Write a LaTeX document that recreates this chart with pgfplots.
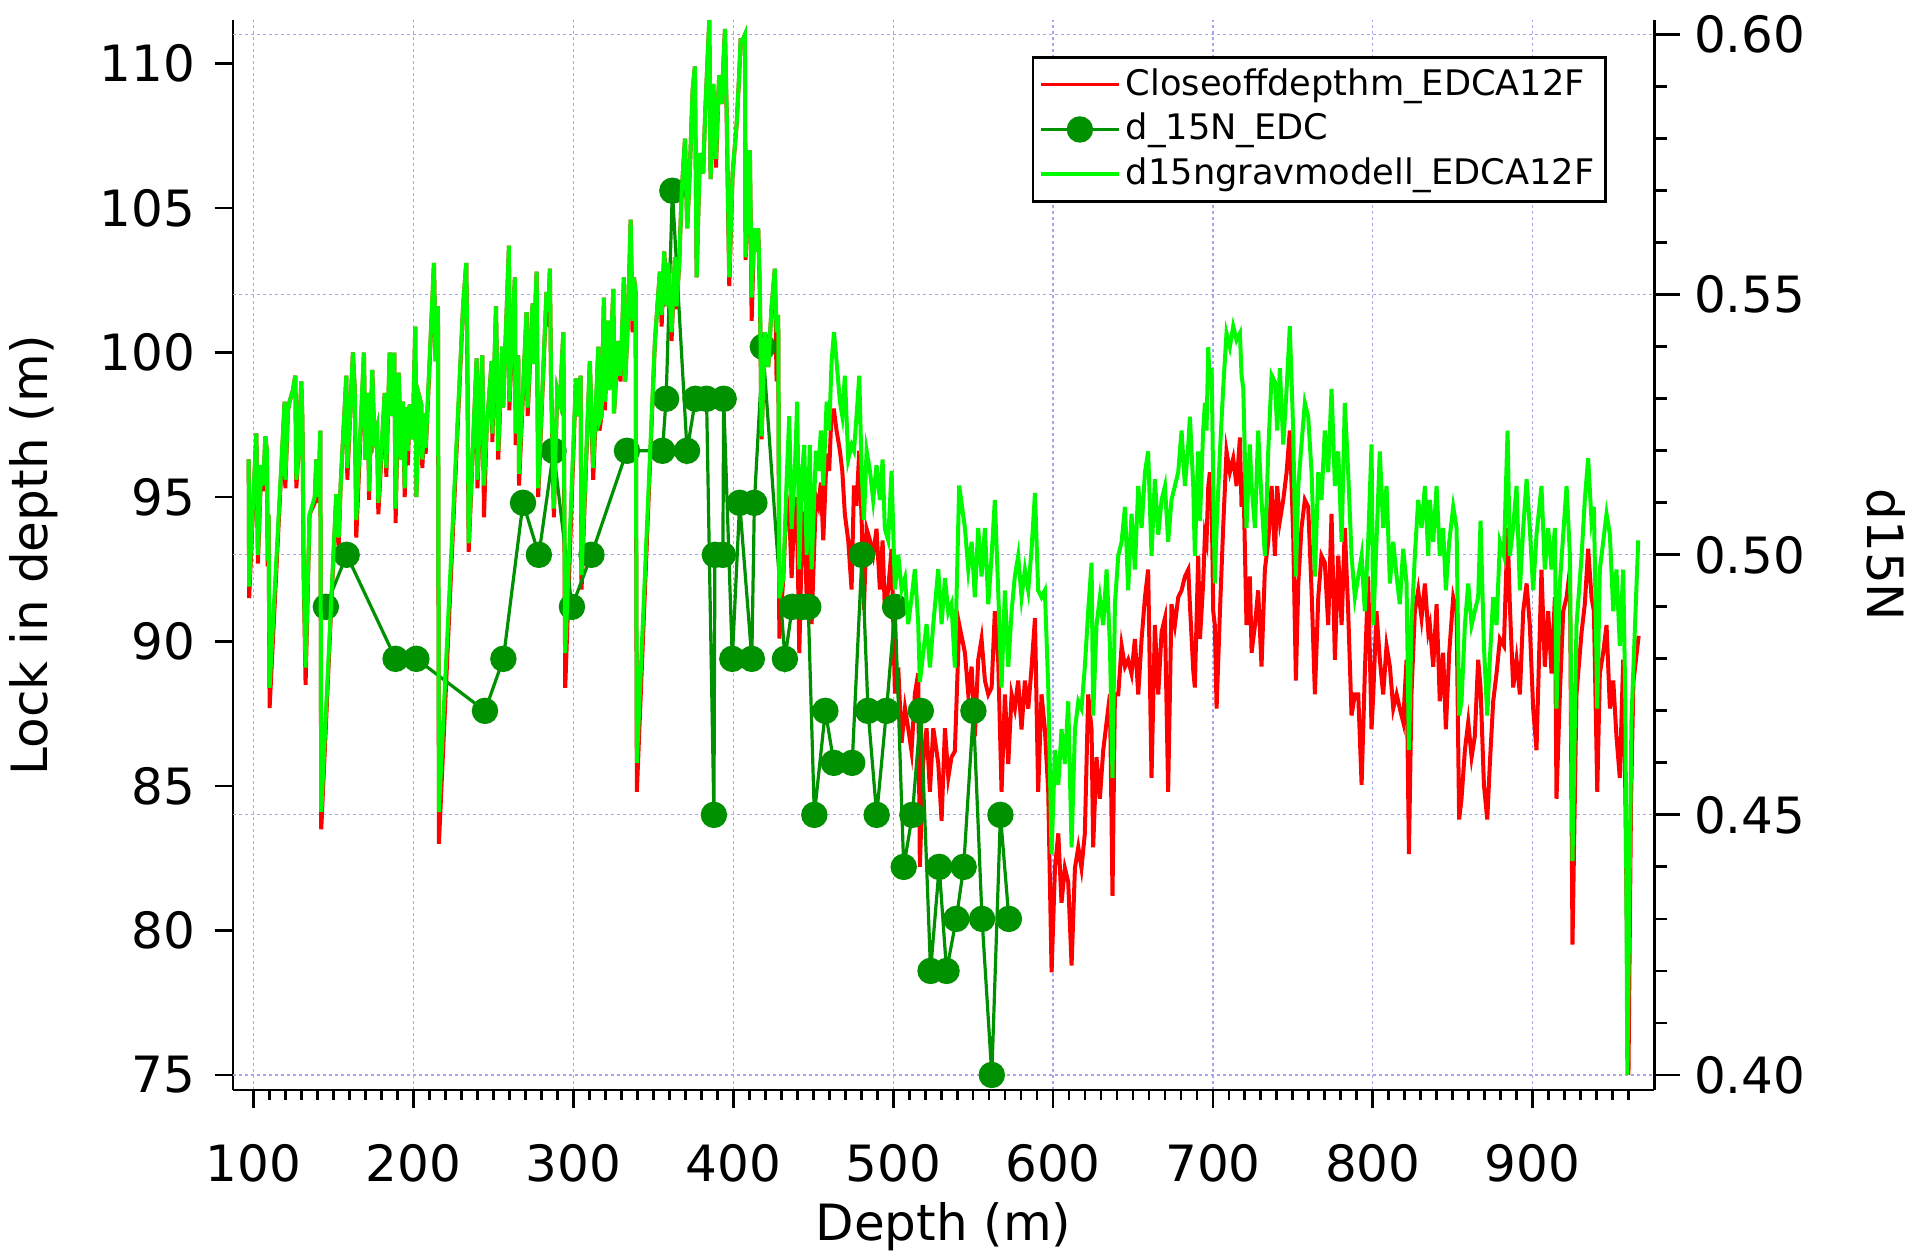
\documentclass[border=0pt]{standalone}
\usepackage{pgfplots}
\pgfplotsset{compat=1.18}
\usepackage{fontspec}
\setmainfont{DejaVu Sans}
\definecolor{cred}{RGB}{255,0,0}
\definecolor{cgreen}{RGB}{0,250,0}
\definecolor{cdark}{RGB}{0,145,0}
\definecolor{cgrid}{RGB}{165,165,240}
\pgfplotsset{
  base/.style={
    scale only axis, width=355.3pt, height=267.5pt,
    at={(0pt,0pt)}, anchor=south west,
    xmin=87.1, xmax=976,
    enlargelimits=false,
    axis line style={-, line width=0.7pt, black},
    tick style={line width=0.7pt, black},
    tick align=outside,
    /pgf/number format/assume math mode=true,
    tick label style={font=\fontsize{12.5}{15}\selectfont},
    label style={font=\fontsize{12.5}{15}\selectfont},
  }
}
\begin{document}
\begin{tikzpicture}
\useasboundingbox (-58.25pt,-42.25pt) rectangle (421.75pt,272.5pt);
% ---------- axis 1: left axis, red series, grid ----------
\begin{axis}[base,
  ymin=74.48, ymax=111.51,
  axis x line*=bottom, axis y line*=left,
  xtick={100,200,...,900},
  minor xtick={110,120,...,960},
  major tick length=4.6pt, minor tick length=2.5pt,
  ytick={75,80,...,110},
  xmajorgrids=true,
  major grid style={cgrid, line width=0.3pt, dash pattern=on 0.7pt off 0.8pt},
  extra y ticks={75,84,93,102,111},
  extra y tick labels={},
  extra y tick style={grid=major, major tick length=0pt},
  xticklabel style={inner sep=0pt, anchor=north},
  yticklabel style={inner sep=0pt, anchor=east},
  xticklabel shift=8.7pt,
  yticklabel shift=4.7pt,
  xlabel={Depth (m)},
  ylabel={Lock in depth (m)},
  x label style={at={([yshift=-34.3pt]axis description cs:0.5,0)}, anchor=center},
  y label style={at={([xshift=-49.8pt]axis description cs:0,0.5)}, anchor=center},
]
\addplot[cred, line width=1pt] coordinates {
(96.9,96.3)(97.2,91.5)(101.7,97.2)(102.7,92.7)(104.8,96.1)(106.0,95.2)(107.3,97.1)(108.3,96.6)(108.8,92.6)(109.3,94.4)(110.0,87.7)(119.4,98.3)(119.8,95.3)(121.5,98.0)(122.5,98.3)(124.6,98.7)(126.1,99.2)(126.7,95.3)(128.0,96.5)(129.8,99.0)(130.5,97.7)(131.3,92.3)(132.5,88.5)(135.0,94.4)(138.2,94.8)(139.2,96.3)(140.5,94.8)(141.7,97.3)(142.3,83.5)(151.7,95.1)(153.2,93.3)(154.5,95.5)(158.0,99.2)(158.6,95.6)(160.5,98.0)(162.1,100.0)(163.2,98.8)(164.2,93.6)(169.0,100.0)(169.9,96.3)(171.5,98.6)(172.2,94.9)(174.2,99.4)(175.5,97.0)(177.2,97.4)(178.0,94.4)(182.0,98.6)(183.0,95.7)(185.1,100.0)(186.7,97.8)(188.0,100.0)(188.8,94.1)(190.7,99.3)(192.4,96.3)(193.4,98.3)(194.5,95.0)(195.5,98.1)(196.5,96.1)(197.6,98.2)(199.5,97.0)(201.1,100.9)(201.8,95.0)(203.5,98.5)(204.9,98.2)(205.5,96.0)(207.0,97.9)(207.6,96.5)(212.8,103.1)(213.8,99.7)(215.3,101.6)(215.9,83.0)(231.0,101.6)(233.0,103.1)(233.7,99.5)(234.5,93.1)(239.5,99.8)(240.0,95.3)(243.0,99.9)(244.1,94.3)
(245.7,97.3)(248.9,99.7)(249.3,96.9)(251.6,101.6)(253.0,96.3)(255.5,100.2)(256.1,98.1)(259.7,103.7)(259.9,98.0)(263.4,102.6)(263.9,96.8)(265.5,99.9)(266.0,95.4)(270.7,101.4)(271.4,97.8)(274.5,101.7)(274.9,99.6)(277.0,102.8)(278.0,95.0)(283.2,102.1)(284.3,100.9)(285.3,102.9)(286.0,99.2)(287.8,94.3)(289.9,98.7)(291.6,98.3)(293.7,100.7)(294.9,88.4)(301.6,99.1)(303.0,97.8)(304.5,99.2)(305.1,91.8)(310.3,99.7)(312.4,95.6)(315.6,100.2)(316.3,97.3)(317.6,97.8)(319.1,101.9)(319.7,98.0)(321.8,101.1)(322.4,98.7)(325.0,102.2)(325.4,97.9)(328.1,100.4)(329.5,99.0)(331.6,102.6)(332.4,99.0)(334.3,101.3)(335.8,104.6)(337.0,100.7)(337.9,102.6)(338.9,102.1)(339.7,84.8)(351.0,100.4)(354.1,102.8)(355.2,100.9)(356.8,103.5)(358.3,101.6)(359.3,103.1)(361.4,100.4)(363.5,103.3)(364.5,101.5)(366.2,103.1)(367.7,105.5)(369.8,107.4)(371.2,104.3)(372.9,106.4)(374.6,109.1)(376.0,109.9)(377.1,102.6)(379.1,106.9)(381.2,106.2)(382.3,108.1)(385.0,111.5)(385.8,106.0)(387.5,109.3)(389.2,106.4)(390.6,108.8)
(391.2,109.6)(392.7,108.6)(394.8,111.2)(395.8,108.4)(397.5,102.3)(399.6,106.2)(402.1,107.9)(403.7,109.6)(404.6,110.8)(405.8,110.8)(407.3,111.0)(407.7,103.2)(409.4,105.5)(410.4,107.0)(411.5,101.1)(413.1,104.3)(414.6,103.5)(415.6,104.3)(416.7,101.9)(417.7,97.0)(419.8,100.7)(421.9,99.5)(424.0,101.6)(426.0,102.9)(427.1,99.0)(428.1,101.3)(428.8,90.1)(431.3,92.2)(433.4,95.0)(435.0,94.5)(436.5,92.2)(438.6,95.0)(440.0,94.0)(441.3,89.6)(442.7,93.0)(444.4,94.5)(445.9,91.5)(447.9,94.0)(449.0,90.6)(451.7,95.0)(453.2,94.7)(454.8,95.5)(456.3,93.5)(458.4,96.5)(460.0,95.9)(461.5,98.0)(463.0,98.0)(464.6,97.3)(466.7,96.6)(468.2,95.9)(469.8,94.4)(471.9,93.5)(474.0,91.8)(475.5,95.4)(477.1,94.7)(478.8,96.6)(480.3,94.2)(481.7,91.1)(483.4,93.9)(485.5,93.5)(487.5,93.0)(489.6,93.9)(491.7,91.8)(493.4,93.5)(494.8,91.1)(496.9,91.8)(499.0,93.2)(501.1,88.2)(503.2,89.1)(505.3,86.5)(507.4,87.7)(509.4,87.0)(511.5,86.2)(513.6,88.2)(515.7,88.9)(516.7,82.2)(518.8,85.8)(520.9,87.0)(523.0,84.8)(525.1,87.0)(528.2,85.8)(530.3,83.8)(532.4,87.0)(534.5,85.3)(536.5,86.0)(538.6,86.2)(541.3,90.6)
(544.9,89.61)(547.0,88.17)(549.1,89.13)(551.1,86.72)(553.2,89.37)(555.3,90.09)(557.4,88.65)(559.5,88.17)(561.6,88.41)(563.6,91.05)(565.7,89.37)(567.8,84.80)(569.9,88.17)(572.0,85.76)(574.1,88.17)(576.1,87.68)(578.2,88.65)(580.3,86.96)(582.4,88.65)(584.5,87.68)(586.6,89.13)(588.7,90.81)(590.7,84.80)(592.8,88.17)(594.9,86.96)(597.0,84.80)(599.1,78.55)(601.2,82.16)(603.3,83.36)(605.3,80.96)(607.4,82.16)(609.5,81.68)(611.6,78.79)(613.7,82.16)(615.8,82.88)(617.8,82.16)(619.9,83.36)(622.0,88.17)(624.1,86.96)(625.1,82.88)(627.2,86.00)(629.3,84.56)(631.4,86.24)(633.5,87.21)(635.6,88.17)(637.2,81.20)(638.7,88.17)(640.8,88.17)(642.9,89.85)(645.0,89.13)(647.0,89.37)(649.1,88.89)(651.2,90.09)(653.3,88.17)(655.4,90.09)(657.5,91.53)(659.5,92.49)(661.6,85.28)(663.7,90.57)(665.8,88.17)(667.9,90.33)(670.0,90.81)(672.0,84.80)(674.1,91.29)(676.2,90.57)(678.3,91.53)(680.4,91.77)(682.5,92.25)(684.6,92.49)(685.6,91.29)(687.7,89.0)(688.7,88.41)(690.8,92.97)(691.9,90.09)
(693.9,92.01)(695.0,93.70)(696.0,93.45)(697.1,95.38)(698.1,95.86)(699.2,94.90)(700.2,91.05)(701.2,90.57)(702.3,87.68)(704.4,91.05)(706.4,93.93)(708.5,96.58)(710.6,95.86)(712.7,96.34)(714.8,95.38)(716.9,97.06)(717.9,94.66)(719.0,95.86)(721.0,90.57)(723.1,92.25)(724.2,89.61)(726.3,90.57)(728.3,91.77)(730.4,89.13)(732.5,92.49)(734.6,93.45)(736.7,95.38)(738.8,92.97)(740.2,95.38)(741.9,94.18)(744.0,94.90)(746.1,95.86)(748.1,97.30)(750.2,93.70)(751.9,88.65)(753.4,92.01)(755.4,93.93)(757.5,94.90)(759.6,94.66)(761.7,91.77)(763.8,88.17)(765.9,91.53)(767.9,92.97)(770.0,92.73)(772.1,90.57)(774.2,94.42)(776.3,89.37)(778.4,92.97)(780.5,90.57)(782.5,93.93)(784.6,91.05)(786.7,87.44)(788.8,88.17)(790.9,88.17)(793.0,85.04)(795.0,88.89)(797.1,92.25)(799.2,86.96)(800.3,88.17)(802.3,91.05)(804.4,89.37)(806.5,88.17)(808.6,89.85)(810.7,89.13)(812.8,87.68)(814.9,88.17)(816.9,87.68)(819.0,87.21)(821.1,89.37)(822.6,82.64)(824.2,88.17)(826.3,91.05)(828.4,91.77)(830.5,90.81)(832.6,92.01)(834.7,90.33)
(835.7,90.57)(837.8,89.13)(839.9,91.29)(841.9,87.93)(844.0,89.61)(845.7,86.96)(847.8,89.61)(850.3,91.53)(852.4,91.05)(854.0,83.84)(855.5,84.56)(857.6,86.24)(859.7,87.21)(861.8,86.00)(863.8,86.72)(865.9,89.37)(867.4,88.41)(869.5,85.04)(871.6,83.84)(873.2,85.76)(875.3,87.93)(877.4,88.89)(879.5,90.09)(882.0,89.85)(884.3,93.93)(885.7,91.29)(887.8,88.41)(889.9,89.37)(892.0,88.17)(894.1,91.05)(896.2,92.01)(898.2,90.57)(900.3,87.68)(902.4,86.24)(905.5,92.49)(907.6,89.13)(909.7,91.05)(911.8,88.89)(913.9,91.53)(914.9,84.56)(917.0,88.17)(919.1,91.05)(921.2,91.53)(923.3,92.49)(924.9,79.51)(927.4,88.17)(930.6,90.33)(932.6,91.29)(934.7,93.21)(936.8,91.53)(938.3,91.05)(940.4,84.80)(942.0,88.89)(944.1,89.61)(946.2,90.57)(948.3,87.68)(950.4,88.65)(952.4,86.72)(954.5,85.28)(956.6,89.37)(958.0,84.6)(959.9,75.0)(961.5,84.4)(963.0,88.6)(966.3,90.2)
};
\end{axis}
% ---------- axis 2: right axis, d15N data ----------
\begin{axis}[base,
  ymin=0.39711, ymax=0.60283,
  axis x line=none, axis y line*=right,
  ytick={0.40,0.45,...,0.60},
  minor y tick num=4,
  major tick length=6.4pt, minor tick length=3.3pt,
  yticklabel style={inner sep=0pt, anchor=west, /pgf/number format/.cd, fixed, fixed zerofill, precision=2},
  yticklabel shift=3.4pt,
  ylabel={d15N},
  y label style={at={([xshift=57.9pt]axis description cs:1,0.5)}, anchor=center, rotate=180},
]
\addplot[cdark, line width=0.8pt, mark=*, mark size=2.9pt, mark options={fill=cdark, draw=cdark}] coordinates {
(145.2,0.490)(158.2,0.500)(188.8,0.480)(201.8,0.480)(244.7,0.470)(256.2,0.480)(268.5,0.510)(278.4,0.500)(287.6,0.520)(299.1,0.490)(311.3,0.500)(333.5,0.520)(355.7,0.520)(358.0,0.530)(361.9,0.570)(371.1,0.520)(376.4,0.530)(383.3,0.530)(387.9,0.450)(388.5,0.500)(393.5,0.500)(394.0,0.530)(399.4,0.480)(404.0,0.510)(411.6,0.480)(413.2,0.510)(418.5,0.540)(432.3,0.480)(436.9,0.490)(443.0,0.490)(446.9,0.490)(450.7,0.450)(457.6,0.470)(462.9,0.460)(474.4,0.460)(480.5,0.500)(484.3,0.470)(489.7,0.450)(495.8,0.470)(501.2,0.490)(506.6,0.440)(512.0,0.450)(517.3,0.470)(523.4,0.420)(528.8,0.440)(533.4,0.420)(539.5,0.430)(544.1,0.440)(550.2,0.470)(555.6,0.430)(561.7,0.400)(567.1,0.450)(572.4,0.430)
};
\end{axis}
% ---------- axis 3: bright green series on top, legend ----------
\begin{axis}[base,
  ymin=74.48, ymax=111.51,
  hide axis,
  legend cell align=left,
  legend style={at={(rel axis cs:0.9665,0.966)}, anchor=north east,
    draw=black, line width=0.6pt, fill=white,
    font=\fontsize{8.8}{10}\selectfont,
    inner xsep=1.5pt, inner ysep=1.5pt, row sep=0.6pt,
    nodes={inner sep=1.2pt}},
  legend image code/.code={\draw[#1, mark repeat=2, mark phase=2] plot coordinates {(0pt,0pt) (9.8pt,0pt) (19.6pt,0pt)};},
]
\addlegendimage{cred, line width=0.8pt}
\addlegendentry{Closeoffdepthm\_EDCA12F}
\addlegendimage{cdark, line width=0.8pt, mark=*, mark size=2.9pt, mark options={fill=cdark, draw=cdark}}
\addlegendentry{d\_15N\_EDC}
\addplot[cgreen, line width=1pt] coordinates {
(96.9,96.3)(97.2,91.9)(101.7,97.2)(102.7,93.0)(104.8,96.1)(106.0,95.4)(107.3,97.1)(108.3,96.6)(108.8,92.8)(109.3,94.4)(110.0,88.4)(119.4,98.3)(119.8,95.6)(121.5,98.0)(122.5,98.3)(124.6,98.7)(126.1,99.2)(126.7,95.6)(128.0,96.5)(129.8,99.0)(130.5,97.7)(131.3,92.5)(132.5,89.1)(135.0,94.4)(138.2,95.0)(139.2,96.3)(140.5,95.0)(141.7,97.3)(142.3,84.1)(151.7,95.1)(153.2,93.6)(154.5,95.5)(158.0,99.2)(158.6,96.0)(160.5,98.0)(162.1,100.0)(163.2,98.8)(164.2,94.2)(169.0,100.0)(169.9,96.3)(171.5,98.6)(172.2,95.2)(174.2,99.4)(175.5,97.0)(177.2,97.4)(178.0,94.8)(182.0,98.6)(183.0,96.0)(185.1,100.0)(186.7,97.8)(188.0,100.0)(188.8,94.6)(190.7,99.3)(192.4,96.3)(193.4,98.3)(194.5,95.3)(195.5,98.1)(196.5,96.6)(197.6,98.2)(199.5,97.0)(201.1,100.9)(201.8,95.0)(203.5,98.5)(204.9,98.2)(205.5,96.3)(207.0,97.9)(207.6,96.7)(212.8,103.1)(213.8,99.7)(215.3,101.6)(215.9,84.1)(231.0,101.6)(233.0,103.1)(233.7,99.8)(234.5,93.4)(239.5,99.8)(240.0,95.6)(243.0,99.9)(244.1,95.4)
(245.7,97.3)(248.9,99.7)(249.3,97.2)(251.6,101.6)(253.0,96.6)(255.5,100.2)(256.1,98.1)(259.7,103.7)(259.9,98.3)(263.4,102.6)(263.9,97.2)(265.5,99.9)(266.0,95.8)(270.7,101.4)(271.4,98.1)(274.5,101.7)(274.9,99.6)(277.0,102.8)(278.0,95.3)(283.2,102.1)(284.3,101.4)(285.3,102.9)(286.0,99.2)(287.8,94.6)(289.9,98.7)(291.6,98.3)(293.7,100.7)(294.9,89.6)(301.6,99.1)(303.0,97.8)(304.5,99.2)(305.1,92.3)(310.3,99.7)(312.4,96.0)(315.6,100.2)(316.3,97.6)(317.6,97.8)(319.1,101.9)(319.7,98.3)(321.8,101.1)(322.4,98.7)(325.0,102.2)(325.4,97.9)(328.1,100.4)(329.5,99.2)(331.6,102.6)(332.4,99.0)(334.3,101.3)(335.8,104.6)(337.0,101.1)(337.9,102.6)(338.9,102.1)(339.7,85.8)(351.0,100.4)(354.1,102.8)(355.2,101.3)(356.8,103.5)(358.3,101.6)(359.3,103.1)(361.4,100.7)(363.5,103.3)(364.5,101.6)(366.2,103.1)(367.7,105.5)(369.8,107.4)(371.2,104.3)(372.9,106.4)(374.6,109.1)(376.0,109.9)(377.1,102.6)(379.1,106.9)(381.2,106.2)(382.3,108.1)(385.0,111.5)(385.8,106.0)(387.5,109.3)(389.2,106.7)(390.6,108.8)
(391.2,109.6)(392.7,108.6)(394.8,111.2)(395.8,108.6)(397.5,102.6)(399.6,106.2)(402.1,107.9)(403.7,109.6)(404.6,110.8)(405.8,110.8)(407.3,111.0)(407.7,103.3)(409.4,105.5)(410.4,107.0)(411.5,101.9)(413.1,104.3)(414.6,103.5)(415.6,104.3)(416.7,102.1)(417.7,97.1)(419.8,100.7)(421.9,99.5)(424.0,101.6)(426.0,102.9)(427.1,100.7)(428.1,101.3)(428.8,91.5)(431.3,92.2)(433.4,95.6)(435.0,97.8)(436.5,93.9)(438.6,96.1)(440.0,98.3)(441.3,92.5)(442.7,95.6)(444.4,96.8)(445.9,93.0)(447.9,96.8)(449.0,92.5)(451.7,96.6)(453.2,95.9)(454.8,97.3)(456.3,95.4)(458.4,98.3)(460.0,97.3)(461.5,99.7)(463.0,100.7)(464.6,99.7)(466.7,98.3)(468.2,97.8)(469.8,99.2)(471.9,96.3)(474.0,96.8)(475.5,96.6)(477.1,97.8)(478.8,99.2)(480.3,95.9)(481.7,94.2)(483.4,96.6)(485.5,95.9)(487.5,94.9)(489.6,96.1)(491.7,94.9)(493.4,96.3)(494.8,93.9)(496.9,93.5)(499.0,95.9)(501.1,91.8)(503.2,93.0)(505.3,91.8)(507.4,92.2)(509.4,90.6)(511.5,91.5)(513.6,92.5)(515.7,90.6)(516.7,88.6)(518.8,89.6)(520.9,90.6)(523.0,89.1)(525.1,90.6)(528.2,92.5)(530.3,90.6)(532.4,92.2)(534.5,91.0)(536.5,91.3)(538.6,89.1)(541.3,95.4)
(544.9,93.93)(547.0,92.49)(549.1,93.45)(551.1,91.53)(553.2,93.93)(555.3,92.25)(557.4,93.93)(559.5,91.29)(561.6,92.97)(563.6,94.90)(565.7,91.77)(567.8,88.41)(569.9,91.77)(572.0,89.13)(574.1,91.05)(576.1,92.25)(578.2,92.97)(580.3,91.53)(582.4,92.49)(584.5,91.77)(586.6,93.21)(588.7,95.14)(590.7,91.77)(592.8,91.53)(594.9,91.77)(597.0,88.41)(599.1,82.64)(601.2,86.24)(603.3,85.04)(605.3,86.96)(607.4,85.76)(609.5,87.93)(611.6,82.88)(613.7,86.96)(615.8,87.93)(617.8,87.68)(619.9,89.13)(622.0,91.05)(624.1,92.73)(625.1,87.44)(627.2,90.57)(629.3,91.53)(631.4,90.57)(633.5,92.49)(635.6,89.85)(637.2,85.28)(638.7,91.29)(640.8,92.97)(642.9,93.45)(645.0,94.66)(647.0,91.77)(649.1,94.42)(651.2,92.49)(653.3,95.38)(655.4,93.93)(657.5,95.86)(659.5,96.58)(661.6,92.97)(663.7,95.62)(665.8,93.70)(667.9,94.90)(670.0,95.38)(672.0,93.45)(674.1,94.90)(676.2,95.38)(678.3,95.86)(680.4,97.30)(682.5,95.38)(684.6,96.82)(685.6,97.78)(687.7,95.38)(688.7,92.97)(690.8,96.58)(691.9,94.18)
(693.9,97.30)(695.0,98.26)(696.0,97.30)(697.1,100.19)(698.1,98.74)(699.2,99.46)(700.2,95.38)(701.2,92.01)(702.3,93.93)(704.4,96.58)(706.4,98.74)(708.5,100.67)(710.6,100.19)(712.7,100.91)(714.8,100.43)(716.9,100.67)(717.9,99.22)(719.0,98.74)(721.0,93.93)(723.1,96.82)(724.2,95.38)(726.3,93.93)(728.3,97.30)(730.4,94.90)(732.5,92.97)(734.6,96.58)(736.7,99.22)(738.8,98.98)(740.2,97.30)(741.9,99.46)(744.0,96.82)(746.1,98.74)(748.1,100.91)(750.2,97.30)(751.9,92.25)(753.4,95.38)(755.4,96.82)(757.5,98.26)(759.6,97.78)(761.7,95.86)(763.8,92.25)(765.9,95.86)(767.9,94.90)(770.0,97.30)(772.1,95.86)(774.2,98.74)(776.3,95.38)(778.4,96.58)(780.5,93.45)(782.5,98.26)(784.6,95.86)(786.7,92.97)(788.8,91.53)(790.9,92.25)(793.0,92.97)(795.0,91.05)(797.1,93.45)(799.2,96.82)(800.3,90.57)(802.3,93.45)(804.4,96.58)(806.5,93.93)(808.6,95.38)(810.7,92.01)(812.8,93.45)(814.9,92.25)(816.9,91.29)(819.0,93.21)(821.1,92.01)(822.6,86.24)(824.2,90.57)(826.3,92.97)(828.4,94.90)(830.5,93.93)(832.6,95.38)(834.7,92.97)
(835.7,94.90)(837.8,93.45)(839.9,95.38)(841.9,92.97)(844.0,93.93)(845.7,91.77)(847.8,93.45)(850.3,94.66)(852.4,93.93)(854.0,87.44)(855.5,87.93)(857.6,90.57)(859.7,92.01)(861.8,90.57)(863.8,91.05)(865.9,91.53)(867.4,94.18)(869.5,89.85)(871.6,87.44)(873.2,89.37)(875.3,91.53)(877.4,90.57)(879.5,93.45)(882.0,92.97)(884.3,97.30)(885.7,92.97)(887.8,93.93)(889.9,95.38)(892.0,91.77)(894.1,93.93)(896.2,95.62)(898.2,93.93)(900.3,91.77)(902.4,93.70)(905.5,95.38)(907.6,92.49)(909.7,93.93)(911.8,92.49)(913.9,93.93)(914.9,87.68)(917.0,92.01)(919.1,93.70)(921.2,95.38)(923.3,92.97)(924.9,82.40)(927.4,90.57)(930.6,92.97)(932.6,94.90)(934.7,96.34)(936.8,94.18)(938.3,94.66)(940.4,87.68)(942.0,92.49)(944.1,93.45)(946.2,94.42)(948.3,93.70)(950.4,91.05)(952.4,92.49)(954.5,89.85)(956.6,92.49)(958.0,87.7)(959.2,75.0)(961.8,87.3)(966.0,93.5)
};
\addlegendentry{d15ngravmodell\_EDCA12F}
\end{axis}
\end{tikzpicture}
\end{document}
